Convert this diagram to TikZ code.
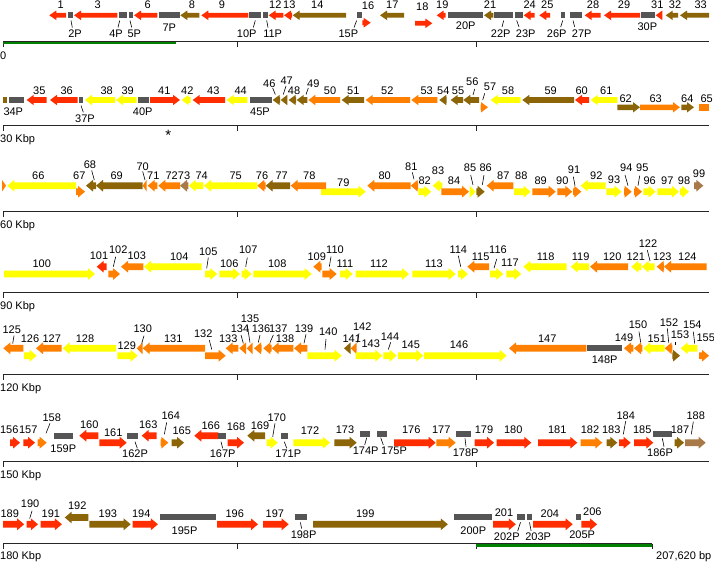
\documentclass[tikz,border=0pt]{standalone}
\usepackage{fontspec}
\setmainfont{Liberation Sans}
\definecolor{gred}{RGB}{255,45,0}
\definecolor{gora}{RGB}{255,128,0}
\definecolor{gyel}{RGB}{255,255,0}
\definecolor{golv}{RGB}{139,101,8}
\definecolor{gbrn}{RGB}{168,122,74}
\definecolor{ggry}{RGB}{85,85,85}
\definecolor{ggrn}{RGB}{0,128,0}
\def\bh{2.6}\def\hh{4.6}
\newcommand\gnR[4]{\pgfmathsetmacro\hx{max(#1,#2-7)}\fill[#4] (#1,#3-\bh) -- (\hx,#3-\bh) -- (\hx,#3-\hh) -- (#2,#3) -- (\hx,#3+\hh) -- (\hx,#3+\bh) -- (#1,#3+\bh) -- cycle;}
\newcommand\gnL[4]{\pgfmathsetmacro\hx{min(#2,#1+7)}\fill[#4] (#2,#3-\bh) -- (\hx,#3-\bh) -- (\hx,#3-\hh) -- (#1,#3) -- (\hx,#3+\hh) -- (\hx,#3+\bh) -- (#2,#3+\bh) -- cycle;}
\newcommand\psg[3]{\fill[ggry] (#1,#3-3.1) rectangle (#2,#3+3.1);}
\newcommand\glab[3]{\node[lbl] at (#1,#2) {#3};}
\newcommand\gldr[4]{\draw[ldr] (#1,#2) -- (#3,#4);}
\newcommand\gaxis[2]{\draw[axl] (3,#1) -- (#2,#1); \foreach \tx in {3,237,476} {\draw[axl] (\tx,#1) -- (\tx,#1+5.5);}}
\tikzset{lbl/.style={inner sep=0pt,font=\fontsize{11}{13}\selectfont,text height=7.9pt,text depth=0pt},
ldr/.style={line width=0.6pt,black},
axl/.style={line width=0.8pt,black!85},
rlab/.style={inner sep=0pt,font=\fontsize{11}{13}\selectfont,text height=7.9pt,text depth=0pt,anchor=west}}
\begin{document}
\begin{tikzpicture}[x=1pt,y=-1pt]
\useasboundingbox (0,0) rectangle (714,562);
\fill[white] (0,0) rectangle (714,562);
% ===== Row 1 =====
\def\bh{2.4}\def\hh{4.8}
\gaxis{41}{709}
\fill[ggrn] (3,41.6) rectangle (176,44);
\node[rlab] at (0,55.5) {0};
\gnL{49.3}{66}{15.3}{gred} \glab{60.7}{5}{1}
\psg{67.7}{73.3}{15.3} \glab{75}{33.5}{2P} \gldr{71}{20.5}{72.3}{27.5}
\gnL{74}{117.3}{15.3}{gred} \glab{97.7}{5}{3}
\psg{119.3}{126.7}{15.3} \glab{116}{33.5}{4P} \gldr{119.7}{20.5}{118}{27.5}
\psg{128.7}{133.3}{15.3} \glab{134.3}{33.5}{5P} \gldr{130}{20.5}{131.7}{27.5}
\gnL{134}{157.3}{15.3}{gred} \glab{147.7}{5}{6}
\psg{159}{180}{15.3} \glab{169.3}{28}{7P}
\gnL{180.3}{199.3}{15.3}{golv} \glab{192}{5}{8}
\gnL{201.3}{248.3}{15.3}{gred} \glab{222}{5}{9}
\psg{249.3}{261.3}{15.3} \glab{246.7}{33.5}{10P} \gldr{255.3}{20.5}{253.3}{27.5}
\psg{262.7}{267.7}{15.3} \glab{272.7}{33.5}{11P} \gldr{266.7}{20.5}{268}{27.5}
\gnL{268.7}{283.3}{15.3}{gred} \glab{275.3}{5}{12}
\gnL{284}{292}{15.3}{gred} \glab{289.3}{5}{13}
\gnL{292.7}{346}{15.3}{golv} \glab{317.3}{5}{14}
\psg{356.7}{362.3}{15.3} \glab{348.3}{33.5}{15P} \gldr{356.7}{20.5}{354}{27.5}
\gnR{362.3}{370.7}{22.7}{gred} \glab{368}{5.5}{16}
\gnL{380}{404}{15.3}{golv} \glab{392.3}{5}{17}
\gnR{415}{432.3}{23.3}{gred} \glab{422.3}{7}{18}
\gnL{436.7}{445.7}{15.3}{gred} \glab{442.3}{5}{19}
\psg{448.3}{483}{15.3} \glab{465.7}{25.5}{20P}
\gnL{484}{493.3}{15.3}{golv} \glab{490}{5}{21}
\psg{494.3}{513.3}{15.3} \glab{500.7}{33.5}{22P} \gldr{503.7}{20.5}{502}{27}
\psg{514.7}{523}{15.3} \glab{525.7}{33.5}{23P} \gldr{516.7}{20.5}{519}{27}
\gnL{523.7}{534.7}{15.3}{gred} \glab{529.7}{5}{24}
\gnL{539.3}{550}{15.3}{gred} \glab{547.3}{5}{25}
\psg{560.7}{565.3}{15.3} \glab{556.7}{33.5}{26P} \gldr{562.7}{20.5}{560.7}{27}
\psg{570}{582.3}{15.3} \glab{581.7}{33.5}{27P} \gldr{573}{20.5}{574.7}{27}
\gnL{584.7}{600.7}{15.3}{gred} \glab{593}{5}{28}
\gnL{604}{640}{15.3}{gred} \glab{624}{5}{29}
\psg{641.3}{655}{15.3} \glab{647.3}{26.7}{30P}
\gnL{655.7}{662.3}{15.3}{gred} \glab{657.3}{5}{31}
\gnL{665.7}{678}{15.3}{golv} \glab{675}{5}{32}
\gnL{680}{709}{15.3}{golv} \glab{700.7}{5}{33}
% ===== Row 2 =====
\def\bh{2.8}\def\hh{5.2}
\gaxis{125.7}{709}
\node[rlab] at (0,138.3) {30 Kbp};
\node[inner sep=0pt,font=\fontsize{15}{15}\selectfont] at (168.3,135.5) {*};
\fill[golv] (2.7,97.2) rectangle (7.3,102.8);
\psg{8.7}{24.3}{100} \glab{13.3}{111.5}{34P}
\gnL{26.7}{46.7}{100}{gred} \glab{39.3}{91}{35}
\gnL{50}{77.7}{100}{gred} \glab{66.7}{91}{36}
\psg{78.7}{83.3}{100} \glab{85}{119}{37P} \gldr{81}{105.5}{83.3}{112.3}
\gnL{85}{115}{100}{gyel} \glab{106.7}{91}{38}
\gnL{116}{136.7}{100}{gyel} \glab{127.7}{91}{39}
\psg{137.7}{149}{100} \glab{142.7}{111.5}{40P}
\gnR{150}{180}{100}{gred} \glab{164.3}{91}{41}
\gnL{181.7}{190.7}{100}{gyel} \glab{187.3}{91}{42}
\gnL{192.7}{225}{100}{gred} \glab{213.3}{91}{43}
\gnL{226.7}{247.3}{100}{gyel} \glab{240.7}{91}{44}
\psg{250}{271.7}{100} \glab{260}{111.5}{45P}
\gnL{272.7}{280}{100}{golv} \glab{269.3}{83.3}{46} \gldr{272.7}{88}{275.3}{94.5}
\gnL{280.7}{287.3}{100}{golv} \glab{286.7}{81}{47} \gldr{286}{86}{283.3}{94.5}
\gnL{288.7}{296}{100}{golv} \glab{294}{91}{48}
\gnL{296.7}{307.3}{100}{golv} \glab{313.3}{83.3}{49} \gldr{308.3}{88}{306}{94.5}
\gnL{308.3}{340}{100}{gora} \glab{330}{91}{50}
\gnL{341.7}{364}{100}{golv} \glab{353.3}{91}{51}
\gnL{365.7}{410}{100}{gora} \glab{387.3}{91}{52}
\gnL{411.3}{437.3}{100}{gora} \glab{426.7}{91}{53}
\gnL{439.3}{446.7}{100}{golv} \glab{443.3}{91}{54}
\gnL{450.7}{463}{100}{golv} \glab{458}{91}{55}
\gnL{463.3}{479}{100}{golv} \glab{472.3}{81.7}{56} \gldr{474.7}{89}{473}{95}
\gnR{480.7}{488}{107.3}{gora} \glab{490}{86.7}{57} \gldr{484.7}{93.3}{482.7}{100}
\gnL{490.7}{520.7}{100}{gyel} \glab{508}{91}{58}
\gnL{522.3}{574}{100}{golv} \glab{550.7}{91}{59}
\gnL{575}{589}{100}{gred} \glab{581.7}{91}{60}
\gnL{590.7}{617.3}{100}{gyel} \glab{606.3}{91}{61}
\gnR{617.3}{640}{107.3}{golv} \glab{625.7}{98.3}{62}
\gnR{640}{680}{107.3}{gora} \glab{655.7}{98.3}{63}
\gnR{681.3}{694}{107.3}{golv} \glab{687.3}{98.3}{64}
\fill[gora] (699,104.1) rectangle (709,110.8); \glab{706.7}{98.3}{65}
% ===== Row 3 =====
\def\bh{3.4}\def\hh{5.9}
\gaxis{211}{709}
\node[rlab] at (0,225) {60 Kbp};
\gnR{2}{6}{185.7}{gora}
\gnL{7.3}{76}{185.7}{gyel} \glab{38.3}{175.7}{66}
\gnR{76}{85}{191.7}{gora} \glab{79.3}{175.7}{67}
\gnL{86}{96}{185.7}{golv} \glab{90}{165}{68} \gldr{91.7}{170.5}{94.3}{180}
\gnL{96}{142.7}{185.7}{golv} \glab{116.7}{175.7}{69}
\gnL{142.7}{146.7}{185.7}{gora} \glab{142.7}{166.7}{70} \gldr{142.7}{171.5}{145}{180}
\gnL{147.7}{157.3}{185.7}{gora} \glab{153.3}{175.7}{71}
\gnL{158.3}{180}{185.7}{gora} \glab{171.7}{175.7}{72}
\gnL{180}{188.3}{185.7}{gbrn} \glab{184}{175.7}{73}
\gnL{188.7}{203.3}{185.7}{gyel} \glab{201.7}{175.7}{74}
\gnL{204}{257.3}{185.7}{gyel} \glab{235.7}{175.7}{75}
\gnL{257.3}{265.7}{185.7}{gora} \glab{262}{175.7}{76}
\gnL{265.7}{290}{185.7}{golv} \glab{281.7}{175.7}{77}
\gnR{321}{365.7}{191.7}{gyel} \glab{343.3}{182.5}{79}
\gnL{290.7}{326}{185.7}{gora} \glab{309.3}{175.7}{78}
\gnL{367.3}{410.7}{185.7}{gora} \glab{384.7}{175.7}{80}
\gnL{410.7}{418}{185.7}{gora} \glab{411.3}{166.7}{81} \gldr{412.3}{172.3}{414}{179.3}
\gnR{418.3}{431.3}{191.7}{gyel} \glab{424.7}{180.5}{82}
\gnL{432.7}{442.3}{185.7}{gyel} \glab{438}{171}{83}
\gnR{441.3}{469}{191.7}{gora} \glab{454}{180.5}{84}
\gnR{469.7}{475.7}{191.7}{gyel} \glab{470}{167.7}{85} \gldr{470.7}{175}{473}{185}
\gnR{476.3}{484.7}{191.7}{golv} \glab{485.7}{167.7}{86} \gldr{484}{175}{482.3}{185}
\gnL{486.7}{513.3}{185.7}{gora} \glab{503.3}{175.7}{87}
\gnR{514}{530.7}{191.7}{gyel} \glab{521.3}{175.7}{88}
\gnR{532.3}{555.7}{191.7}{gora} \glab{540.7}{180.5}{89}
\gnR{557.3}{572.3}{191.7}{gora} \glab{562.3}{180.5}{90}
\gnR{573}{581.3}{191.7}{gora} \glab{574}{170}{91} \gldr{573.3}{176.7}{575}{185.7}
\gnL{580.7}{605.7}{185.7}{gyel} \glab{596.3}{175.7}{92}
\gnR{606.3}{621.7}{191.7}{gyel} \glab{614}{180}{93}
\gnR{624}{631.7}{191.7}{gora} \glab{626.3}{167.7}{94} \gldr{625}{175}{628}{185.7}
\gnR{634}{642}{191.7}{gora} \glab{642.3}{167.7}{95} \gldr{639.7}{175.7}{638}{185.7}
\gnR{643.3}{655.7}{191.7}{gyel} \glab{649.7}{180.5}{96}
\gnR{657.3}{679}{191.7}{gyel} \glab{667.3}{180.5}{97}
\gnR{680}{689}{191.7}{gyel} \glab{684}{180.5}{98}
\gnR{694}{703.3}{185.7}{gbrn} \glab{699}{173.3}{99}
% ===== Row 4 =====
\gaxis{292.3}{709}
\node[rlab] at (0,305.7) {90 Kbp};
\gnR{4}{95}{274}{gyel} \glab{41.7}{263.5}{100}
\gnL{96.7}{106.7}{266.7}{gred} \glab{99}{255.7}{101}
\gnR{108.3}{120}{274}{gora} \glab{118.3}{250}{102} \gldr{115.7}{256.7}{113.3}{266.7}
\gnL{121}{143.3}{266.7}{gora} \glab{136.7}{255.7}{103}
\gnL{144}{201.7}{266.7}{gyel} \glab{179.3}{256.7}{104}
\gnR{205}{217.3}{274}{gyel} \glab{208.3}{251.7}{105} \gldr{208.3}{257.7}{206.7}{268.3}
\gnR{219.3}{240}{274}{gyel} \glab{229.3}{263.5}{106}
\gnR{241.7}{251.7}{274}{gyel} \glab{248.3}{250}{107} \gldr{247.3}{257.7}{245.7}{266.7}
\gnR{253.3}{311.7}{274}{gyel} \glab{277.3}{263.5}{108}
\gnL{313.3}{321.7}{266.7}{gora} \glab{316.7}{256.7}{109}
\gnR{322.3}{336.7}{274}{gora} \glab{335}{250}{110} \gldr{331}{256.7}{329.3}{266.7}
\gnR{340}{352.7}{274}{gyel} \glab{345}{263.5}{111}
\gnR{355.7}{409}{274}{gyel} \glab{379}{263.5}{112}
\gnR{412.3}{455.7}{274}{gyel} \glab{434}{263.5}{113}
\gnR{458}{468}{274}{gyel} \glab{458.3}{250}{114} \gldr{458.3}{255.7}{460.7}{266.7}
\gnL{467.3}{489}{266.7}{gora} \glab{480.7}{256.7}{115}
\gnR{490}{503.3}{274}{gyel} \glab{498}{250}{116} \gldr{496.7}{259}{494}{268.3}
\gnR{506.3}{521.3}{274}{gyel} \glab{510}{263}{117}
\gnL{523.3}{566.7}{266.7}{gyel} \glab{545.7}{256.7}{118}
\gnL{570.7}{589}{266.7}{gyel} \glab{580.7}{256.7}{119}
\gnL{590}{628}{266.7}{gora} \glab{612.3}{256.7}{120}
\gnL{631.3}{641.3}{266.7}{gyel} \glab{635.7}{256.7}{121}
\gnL{641.7}{654.7}{266.7}{gyel} \glab{648}{243.3}{122} \gldr{647.3}{250}{650}{261}
\gnL{656.7}{664}{266.7}{gora} \glab{662.3}{256.7}{123}
\gnL{664}{706.7}{266.7}{gora} \glab{687.3}{256.7}{124}
% ===== Row 5 =====
\gaxis{374.3}{709}
\node[rlab] at (0,387.7) {120 Kbp};
\gnL{3.3}{23.3}{348.3}{gora} \glab{11.7}{330}{125} \gldr{14}{335.7}{12.7}{343.5}
\gnR{24}{36.7}{355.7}{gyel} \glab{30}{339}{126}
\gnL{36}{61.7}{348.3}{gora} \glab{51.7}{339}{127}
\gnL{62.7}{116}{348.3}{gyel} \glab{85}{339}{128}
\gnR{117.3}{137.7}{355.7}{gyel} \glab{126.7}{345.2}{129}
\gnL{136.7}{142.7}{348.3}{gora} \glab{142.7}{328.3}{130} \gldr{144}{335.7}{141.7}{343.5}
\gnL{142.7}{205}{348.3}{gora} \glab{173.3}{339}{131}
\gnR{205}{225.7}{355.7}{gora} \glab{203.3}{333.3}{132} \gldr{209.3}{340}{211.7}{349.5}
\gnL{225.7}{238.3}{348.3}{gora} \glab{228.3}{339}{133}
\gnL{239.3}{246}{348.3}{gora} \glab{240}{329}{134} \gldr{241}{335}{243.3}{343.3}
\gnL{246.7}{252.7}{348.3}{gora} \glab{250}{319}{135} \gldr{247.3}{325.7}{250}{342.5}
\gnL{254}{261.7}{348.3}{gora} \glab{261}{329}{136} \gldr{260}{335}{258.3}{342.5}
\gnL{263.3}{271.7}{348.3}{gora} \glab{278.3}{329}{137} \gldr{273.3}{335}{270}{342.5}
\gnL{271.7}{293.3}{348.3}{gora} \glab{285}{339}{138}
\gnL{294}{307.3}{348.3}{gora} \glab{304}{328.3}{139} \gldr{306}{334.3}{304}{343.3}
\gnR{307.3}{341.7}{355.7}{gyel} \glab{328.3}{331.7}{140} \gldr{326}{339}{325}{349.5}
\gnL{344}{350.7}{348.3}{golv} \glab{351.7}{339}{141}
\gnL{350.7}{356.7}{348.3}{gora} \glab{362.3}{326.7}{142} \gldr{359}{333.3}{357.3}{342.5}
\gnR{355.7}{382.3}{355.7}{gyel} \glab{370.7}{344}{143}
\gnR{383.3}{396.7}{355.7}{gyel} \glab{390}{336.7}{144} \gldr{390.7}{342.3}{388.3}{349.5}
\gnR{398}{423.3}{355.7}{gyel} \glab{410.7}{345}{145}
\gnR{424}{506.7}{355.7}{gyel} \glab{459}{345}{146}
\gnL{509}{586.3}{348.3}{gora} \glab{547.3}{338.5}{147}
\psg{587.3}{622.3}{348.3} \glab{604.7}{359.5}{148P}
\gnL{624}{633.3}{348.3}{gora} \glab{624}{337.7}{149}
\gnL{634}{642.3}{348.3}{gora} \glab{638}{325}{150} \gldr{639}{331.7}{640.7}{342.5}
\gnL{643.3}{664.7}{348.3}{gyel} \glab{656.7}{338.3}{151}
\gnL{664.7}{672.3}{348.3}{gora} \glab{669}{322.3}{152} \gldr{667.3}{328.3}{668.7}{342.5}
\gnR{672.3}{680}{355.7}{golv} \glab{680}{335}{153} \gldr{675.7}{341.7}{675.7}{345}
\gnL{680.7}{697.3}{348.3}{gyel} \glab{692.3}{325}{154} \gldr{693.3}{331.7}{694.7}{343.5}
\gnR{699}{709}{355.7}{gora} \glab{705.7}{337.7}{155}
% ===== Row 6 =====
\gaxis{461.7}{709}
\node[rlab] at (0,475) {150 Kbp};
\gnR{10}{20}{442.7}{gred} \glab{9.3}{430}{156}
\gnR{23.3}{35}{442.7}{gred} \glab{28.3}{430}{157}
\gnR{37.7}{46.7}{442.7}{gora} \glab{51.7}{417.7}{158} \gldr{50}{423.3}{46}{433.3}
\psg{54.3}{72.7}{435.7} \glab{63.3}{448.8}{159P}
\gnL{79.3}{98.3}{435.7}{gred} \glab{89.3}{425}{160}
\gnR{99.3}{126.7}{442.7}{gred} \glab{113.3}{432.7}{161}
\psg{127.3}{138.3}{435.7} \glab{135}{454}{162P} \gldr{135}{441.7}{137.3}{448.3}
\gnL{141.7}{156.7}{435.7}{gred} \glab{148.3}{425}{163}
\gnR{160.7}{168.3}{442.7}{gora} \glab{170.7}{415.7}{164} \gldr{166.7}{422.3}{164.3}{434.3}
\gnR{171.7}{184}{442.7}{golv} \glab{181.7}{430.5}{165}
\gnL{194.3}{218.3}{435.7}{gred} \glab{210.7}{426}{166}
\psg{218.3}{226}{435.7} \glab{222.7}{454}{167P} \gldr{221}{441.7}{222.7}{448.3}
\gnR{227.7}{244}{442.7}{gred} \glab{236}{426.7}{168}
\gnL{247.3}{265}{435.7}{golv} \glab{260}{426}{169}
\gnR{266.7}{277.7}{442.7}{gyel} \glab{276.7}{417.7}{170} \gldr{275}{423.3}{272.7}{436.7}
\psg{281}{288.3}{435.7} \glab{288.3}{454}{171P} \gldr{284.3}{441.7}{286.7}{448.3}
\gnR{293.3}{330}{442.7}{gyel} \glab{310}{431}{172}
\gnR{334.3}{356.7}{442.7}{golv} \glab{345}{430}{173}
\psg{360}{370}{434.3} \glab{365.7}{451}{174P} \gldr{366.7}{437.7}{364.7}{445}
\psg{377.3}{387.3}{434.3} \glab{394}{451}{175P} \gldr{380.7}{437.7}{383.3}{445}
\gnR{394}{435.7}{442.7}{gred} \glab{411.3}{429.3}{176}
\gnR{436.3}{455.7}{442.7}{gora} \glab{441.3}{429.3}{177}
\psg{456.3}{471.3}{434.3} \glab{465.7}{452.3}{178P} \gldr{465}{438.3}{466}{446.7}
\gnR{474.7}{494}{442.7}{gred} \glab{484}{429.3}{179}
\gnR{496.7}{531.3}{442.7}{gred} \glab{513.3}{429.3}{180}
\gnR{538}{577.3}{442.7}{gred} \glab{557.3}{429.3}{181}
\gnR{580.7}{602.3}{442.7}{gora} \glab{590}{429.3}{182}
\gnR{606.7}{617.3}{442.7}{golv} \glab{611.3}{429.3}{183}
\gnR{619}{630.7}{442.7}{gred} \glab{625.7}{415.7}{184} \gldr{625.7}{421}{623.3}{434.3}
\gnR{634}{653.3}{442.7}{gred} \glab{642.3}{429.3}{185}
\psg{653.3}{672.3}{434.3} \glab{660}{452.3}{186P} \gldr{662.3}{438.3}{664}{446.7}
\gnR{674.7}{684}{442.7}{golv} \glab{680}{429.3}{187}
\gnR{685}{705.7}{442.7}{gbrn} \glab{695.7}{415.7}{188} \gldr{693.3}{421.7}{691.3}{434.3}
% ===== Row 7 =====
\gaxis{543.5}{652}
\draw[axl] (652,543.5) -- (652,549);
\fill[ggrn] (476,544.1) rectangle (652,546.5);
\node[rlab] at (0,556) {180 Kbp};
\node[rlab] at (656,556) {207,620 bp};
\gnR{3}{24.2}{524.3}{gred} \glab{9.7}{513.5}{189}
\gnR{26.6}{38}{524.3}{gred} \glab{30.1}{503.3}{190} \gldr{32.1}{510.7}{29.7}{518.5}
\gnR{40.7}{61.9}{524.3}{gred} \glab{50.9}{513.5}{191}
\gnL{64.7}{88.3}{517.5}{golv} \glab{77.3}{505.7}{192}
\gnR{89.4}{130.7}{524.3}{golv} \glab{107.9}{513.5}{193}
\gnR{132.7}{157.9}{524.3}{gred} \glab{141.3}{513.5}{194}
\psg{160.2}{216}{517.3} \glab{184.5}{530.7}{195P}
\gnR{217.1}{258}{524.3}{gred} \glab{234.8}{513.5}{196}
\gnR{263.1}{288.7}{524.3}{gred} \glab{274.9}{513.5}{197}
\psg{294.6}{307.1}{517.3} \glab{303.6}{534.3}{198P} \gldr{300.4}{522.3}{301.6}{528.5}
\gnR{313}{447.8}{524.3}{golv} \glab{365.3}{513.5}{199}
\psg{453.7}{492.2}{517.3} \glab{473.3}{530.7}{200P}
\gnR{493}{515.8}{524.3}{gred} \glab{504}{512.5}{201}
\psg{516.6}{524.5}{517.3} \glab{506.8}{536.7}{202P} \gldr{520.5}{522.3}{517.7}{531}
\psg{527.2}{532.3}{517.3} \glab{538.2}{536.7}{203P} \gldr{529.5}{522.3}{531.1}{531}
\gnR{533}{572.7}{524.3}{gred} \glab{549.9}{513.5}{204}
\psg{575.5}{580.6}{517.3} \glab{582.2}{534.3}{205P}
\gnR{581.4}{597.1}{524.3}{gred} \glab{592.4}{511.7}{206}
\end{tikzpicture}
\end{document}
